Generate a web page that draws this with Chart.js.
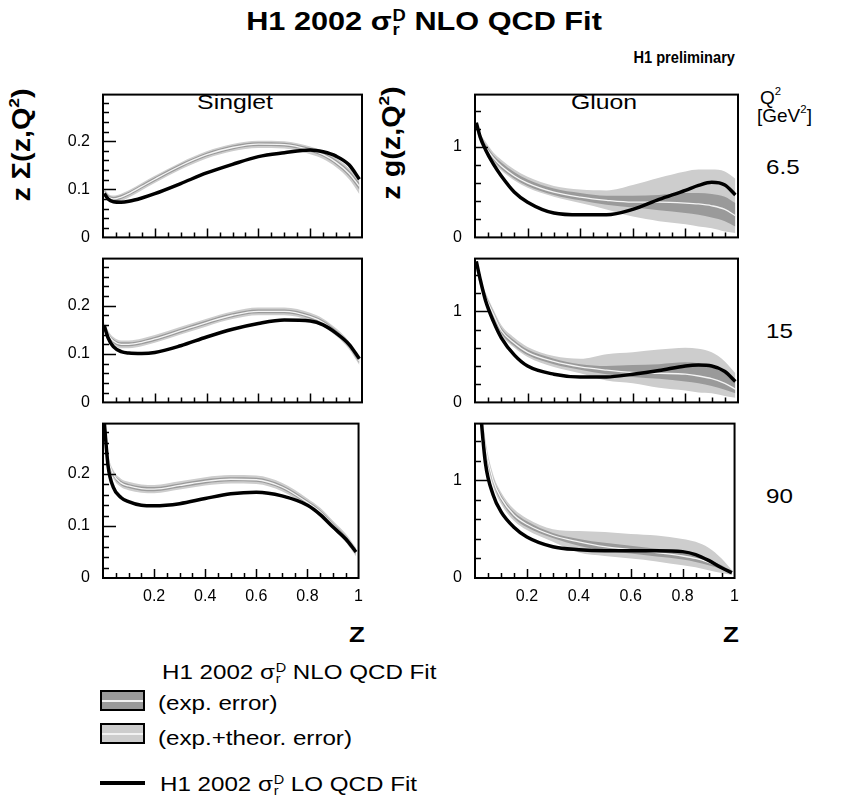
<!DOCTYPE html>
<html>
<head>
<meta charset="utf-8">
<script src="https://cdn.jsdelivr.net/npm/chart.js@4.4.1/dist/chart.umd.min.js"></script>
<style>
body { margin: 0; width: 845px; height: 804px; position: relative; overflow: hidden; background: #fff;
       font-family: "Liberation Sans", Arial, sans-serif; color: #000; }
.t { position: absolute; white-space: nowrap; line-height: 1; }
.c { transform: translate(-50%, -50%) scaleX(1.18); }
.l { transform: translateY(-50%) scaleX(1.15); transform-origin: left center; }
.r { transform: translate(-100%, -50%) scaleX(0.86); transform-origin: right center; }
.v { transform: translate(-50%, -50%) rotate(-90deg) scaleX(1.15); font-weight: bold; }
.sd { display: inline-block; font-size: .6em; line-height: .92; vertical-align: -.33em; margin-left: .05em; }
.sd span { display: block; }
.sp { font-size: .6em; position: relative; top: -.75em; }
.box { position: absolute; left: 100px; width: 41px; height: 17px; border: 2px solid #000; }
.box i { position: absolute; left: 0; right: 0; top: 8px; height: 2px; background: #f2f2f2; }
canvas { position: absolute; }
</style>
</head>
<body>

<div class="t c" style="left:424px;top:23px;font-size:26px;font-weight:bold">H1 2002 σ<span class="sd"><span>D</span><span>r</span></span> NLO QCD Fit</div>
<div class="t r" style="left:735px;top:57px;font-size:17px;font-weight:bold">H1 preliminary</div>

<div class="t c" style="left:235px;top:101px;font-size:21px">Singlet</div>
<div class="t c" style="left:604px;top:101px;font-size:21px">Gluon</div>

<div class="t v" style="left:21px;top:145px;font-size:25px">z Σ(z,Q<span class="sp">2</span>)</div>
<div class="t v" style="left:391px;top:143px;font-size:25px">z g(z,Q<span class="sp">2</span>)</div>

<div class="t" style="left:760px;top:88px;font-size:19px">Q<span class="sp">2</span></div>
<div class="t" style="left:757px;top:106px;font-size:19px">[GeV<span class="sp">2</span>]</div>

<div class="t c" style="left:357px;top:635px;font-size:22px;font-weight:bold">Z</div>
<div class="t c" style="left:731px;top:635px;font-size:22px;font-weight:bold">Z</div>

<div class="t l" style="left:162px;top:673px;font-size:21px">H1 2002 σ<span class="sd"><span>D</span><span>r</span></span> NLO QCD Fit</div>
<div class="box" style="top:690px;background:#9a9a9a"><i></i></div>
<div class="t l" style="left:158px;top:702px;font-size:21px">(exp. error)</div>
<div class="box" style="top:723px;background:#cdcdcd"><i></i></div>
<div class="t l" style="left:158px;top:737px;font-size:21px">(exp.+theor. error)</div>
<div style="position:absolute;left:100px;top:781px;width:45px;height:4px;background:#000"></div>
<div class="t l" style="left:160px;top:785px;font-size:21px">H1 2002 σ<span class="sd"><span>D</span><span>r</span></span> LO QCD Fit</div>

<script>
// z grid shared by all curves
const z = [0.005, 0.02, 0.04, 0.07, 0.1, 0.15, 0.2, 0.3, 0.4, 0.5, 0.6, 0.7, 0.8, 0.85, 0.9, 0.95, 0.99];
const q2Values = ['6.5', '15', '90'];

// singlet, Q2 = 6.5
const sing65_lo    = [0.091, 0.080, 0.074, 0.073, 0.075, 0.082, 0.091, 0.112, 0.134, 0.152, 0.168, 0.176, 0.182, 0.178, 0.169, 0.151, 0.121];
const sing65_nlo   = [0.094, 0.084, 0.080, 0.084, 0.091, 0.106, 0.121, 0.149, 0.172, 0.187, 0.194, 0.193, 0.182, 0.172, 0.156, 0.133, 0.106];
const sing65_expLo = [0.090, 0.080, 0.076, 0.080, 0.087, 0.102, 0.117, 0.145, 0.168, 0.183, 0.190, 0.189, 0.178, 0.168, 0.151, 0.127, 0.099];
const sing65_expHi = [0.098, 0.088, 0.084, 0.088, 0.095, 0.110, 0.125, 0.153, 0.176, 0.191, 0.198, 0.197, 0.186, 0.176, 0.161, 0.139, 0.113];
const sing65_totLo = [0.086, 0.075, 0.071, 0.075, 0.083, 0.098, 0.113, 0.141, 0.164, 0.179, 0.186, 0.185, 0.173, 0.163, 0.146, 0.121, 0.090];
const sing65_totHi = [0.101, 0.091, 0.087, 0.091, 0.098, 0.113, 0.128, 0.156, 0.179, 0.194, 0.201, 0.200, 0.189, 0.180, 0.165, 0.144, 0.120];

// singlet, Q2 = 15
const sing15_lo    = [0.158, 0.133, 0.115, 0.105, 0.102, 0.101, 0.103, 0.117, 0.135, 0.151, 0.163, 0.170, 0.168, 0.160, 0.143, 0.120, 0.090];
const sing15_nlo   = [0.158, 0.140, 0.127, 0.120, 0.120, 0.124, 0.131, 0.148, 0.165, 0.180, 0.188, 0.188, 0.177, 0.165, 0.145, 0.118, 0.085];
const sing15_expLo = [0.154, 0.136, 0.123, 0.116, 0.116, 0.120, 0.127, 0.144, 0.161, 0.176, 0.184, 0.184, 0.173, 0.161, 0.141, 0.114, 0.081];
const sing15_expHi = [0.162, 0.144, 0.131, 0.124, 0.124, 0.128, 0.135, 0.152, 0.169, 0.184, 0.192, 0.192, 0.181, 0.169, 0.149, 0.122, 0.089];
const sing15_totLo = [0.150, 0.132, 0.119, 0.112, 0.112, 0.116, 0.123, 0.140, 0.157, 0.172, 0.180, 0.180, 0.169, 0.157, 0.137, 0.110, 0.077];
const sing15_totHi = [0.166, 0.148, 0.135, 0.128, 0.128, 0.132, 0.139, 0.156, 0.173, 0.188, 0.196, 0.196, 0.185, 0.173, 0.153, 0.126, 0.093];

// singlet, Q2 = 90
const sing90_lo    = [0.300, 0.215, 0.175, 0.155, 0.147, 0.140, 0.139, 0.143, 0.153, 0.162, 0.165, 0.158, 0.140, 0.122, 0.098, 0.075, 0.050];
const sing90_nlo   = [0.290, 0.230, 0.200, 0.183, 0.177, 0.172, 0.171, 0.178, 0.186, 0.190, 0.189, 0.175, 0.145, 0.127, 0.102, 0.077, 0.050];
const sing90_expLo = [0.286, 0.226, 0.196, 0.179, 0.173, 0.168, 0.167, 0.174, 0.182, 0.186, 0.185, 0.171, 0.141, 0.123, 0.098, 0.073, 0.046];
const sing90_expHi = [0.294, 0.234, 0.204, 0.187, 0.181, 0.176, 0.175, 0.182, 0.190, 0.194, 0.193, 0.179, 0.149, 0.131, 0.106, 0.081, 0.054];
const sing90_totLo = [0.282, 0.222, 0.192, 0.175, 0.169, 0.164, 0.163, 0.170, 0.178, 0.182, 0.181, 0.167, 0.137, 0.119, 0.094, 0.069, 0.042];
const sing90_totHi = [0.298, 0.238, 0.208, 0.191, 0.185, 0.180, 0.179, 0.186, 0.194, 0.198, 0.197, 0.183, 0.153, 0.135, 0.110, 0.085, 0.058];

// gluon, Q2 = 6.5
const glu65_lo    = [1.27, 1.11, 0.97, 0.81, 0.68, 0.50, 0.39, 0.27, 0.25, 0.25, 0.31, 0.42, 0.52, 0.575, 0.61, 0.58, 0.47];
const glu65_nlo   = [1.23, 1.10, 1.00, 0.88, 0.79, 0.68, 0.60, 0.50, 0.445, 0.41, 0.39, 0.39, 0.38, 0.37, 0.35, 0.31, 0.24];
const glu65_expLo = [1.20, 1.07, 0.97, 0.85, 0.76, 0.65, 0.57, 0.47, 0.41, 0.36, 0.33, 0.30, 0.27, 0.25, 0.22, 0.18, 0.12];
const glu65_expHi = [1.26, 1.13, 1.03, 0.91, 0.83, 0.72, 0.64, 0.54, 0.49, 0.46, 0.46, 0.47, 0.49, 0.49, 0.48, 0.45, 0.38];
const glu65_totLo = [1.18, 1.05, 0.95, 0.83, 0.74, 0.63, 0.55, 0.45, 0.38, 0.31, 0.23, 0.18, 0.145, 0.12, 0.10, 0.065, 0.05];
const glu65_totHi = [1.28, 1.15, 1.06, 0.94, 0.86, 0.75, 0.67, 0.57, 0.53, 0.52, 0.58, 0.66, 0.73, 0.75, 0.75, 0.73, 0.65];

// gluon, Q2 = 15
const glu15_lo    = [1.55, 1.35, 1.12, 0.89, 0.71, 0.52, 0.40, 0.31, 0.28, 0.28, 0.31, 0.35, 0.40, 0.41, 0.40, 0.34, 0.23];
const glu15_nlo   = [1.50, 1.32, 1.16, 0.97, 0.79, 0.65, 0.55, 0.45, 0.39, 0.355, 0.33, 0.32, 0.31, 0.29, 0.26, 0.21, 0.145];
const glu15_expLo = [1.47, 1.29, 1.13, 0.94, 0.76, 0.62, 0.52, 0.42, 0.36, 0.31, 0.28, 0.26, 0.23, 0.21, 0.18, 0.14, 0.10];
const glu15_expHi = [1.53, 1.35, 1.19, 1.00, 0.82, 0.68, 0.58, 0.48, 0.42, 0.40, 0.41, 0.42, 0.44, 0.43, 0.39, 0.32, 0.23];
const glu15_totLo = [1.45, 1.27, 1.11, 0.92, 0.74, 0.60, 0.50, 0.39, 0.32, 0.24, 0.21, 0.16, 0.13, 0.11, 0.10, 0.07, 0.05];
const glu15_totHi = [1.55, 1.37, 1.21, 1.02, 0.85, 0.71, 0.61, 0.51, 0.48, 0.53, 0.55, 0.58, 0.60, 0.59, 0.55, 0.45, 0.32];

// gluon, Q2 = 90
const glu90_lo    = [2.30, 1.75, 1.18, 0.85, 0.68, 0.52, 0.42, 0.32, 0.29, 0.28, 0.28, 0.28, 0.27, 0.24, 0.18, 0.105, 0.055];
const glu90_nlo   = [2.10, 1.80, 1.35, 1.00, 0.82, 0.645, 0.55, 0.435, 0.37, 0.32, 0.29, 0.26, 0.225, 0.20, 0.16, 0.11, 0.055];
const glu90_expLo = [2.05, 1.76, 1.31, 0.97, 0.79, 0.615, 0.52, 0.41, 0.33, 0.28, 0.25, 0.22, 0.19, 0.165, 0.13, 0.09, 0.045];
const glu90_expHi = [2.15, 1.84, 1.39, 1.03, 0.85, 0.675, 0.58, 0.46, 0.40, 0.36, 0.33, 0.30, 0.27, 0.24, 0.19, 0.13, 0.065];
const glu90_totLo = [2.00, 1.72, 1.28, 0.94, 0.76, 0.585, 0.49, 0.37, 0.26, 0.225, 0.20, 0.17, 0.13, 0.11, 0.08, 0.05, 0.03];
const glu90_totHi = [2.20, 1.88, 1.42, 1.06, 0.88, 0.705, 0.61, 0.50, 0.48, 0.47, 0.45, 0.435, 0.40, 0.37, 0.31, 0.20, 0.08];

const panels = [
  {col: 0, row: 0, lo: sing65_lo, nlo: sing65_nlo, expLo: sing65_expLo, expHi: sing65_expHi, totLo: sing65_totLo, totHi: sing65_totHi},
  {col: 0, row: 1, lo: sing15_lo, nlo: sing15_nlo, expLo: sing15_expLo, expHi: sing15_expHi, totLo: sing15_totLo, totHi: sing15_totHi},
  {col: 0, row: 2, lo: sing90_lo, nlo: sing90_nlo, expLo: sing90_expLo, expHi: sing90_expHi, totLo: sing90_totLo, totHi: sing90_totHi},
  {col: 1, row: 0, lo: glu65_lo, nlo: glu65_nlo, expLo: glu65_expLo, expHi: glu65_expHi, totLo: glu65_totLo, totHi: glu65_totHi},
  {col: 1, row: 1, lo: glu15_lo, nlo: glu15_nlo, expLo: glu15_expLo, expHi: glu15_expHi, totLo: glu15_totLo, totHi: glu15_totHi},
  {col: 1, row: 2, lo: glu90_lo, nlo: glu90_nlo, expLo: glu90_expLo, expHi: glu90_expHi, totLo: glu90_totLo, totHi: glu90_totHi}
];

// panel frames on the page
const colX = [103, 475], colW = [259, 263];
const rowY = [84, 248, 413], rowH = [164, 165, 165];
const yAxes = [{max: 0.297, step: 0.1, minor: 0.02}, {max: 1.58, step: 1, minor: 0.2}];

q2Values.forEach((q, i) => {
  const d = document.createElement('div');
  d.className = 't l';
  d.style.cssText = 'left:766px;font-size:21px;top:' + [166, 330, 495][i] + 'px';
  d.textContent = q;
  document.body.appendChild(d);
});

// ROOT-like frame with inward ticks on left and bottom
const rootFrame = {
  id: 'rootFrame',
  afterDatasetsDraw(chart, args, ax) {
    const {ctx, chartArea: a, scales: {x, y}} = chart;
    ctx.save();
    ctx.strokeStyle = '#000';
    ctx.lineWidth = 1.5;
    ctx.beginPath();
    for (let i = 1; i * ax.minor < ax.max; i++) {
      const v = i * ax.minor;
      const major = Math.abs(v / ax.step - Math.round(v / ax.step)) < 1e-6;
      const py = Math.round(y.getPixelForValue(v)) + 0.5;
      ctx.moveTo(a.left, py);
      ctx.lineTo(a.left + (major ? 13 : 6), py);
    }
    for (let i = 1; i < 20; i++) {
      const px = Math.round(x.getPixelForValue(i * 0.05)) + 0.5;
      ctx.moveTo(px, a.bottom);
      ctx.lineTo(px, a.bottom - (i % 4 === 0 ? 9 : 5));
    }
    ctx.stroke();
    ctx.lineWidth = 2;
    ctx.strokeRect(a.left, a.top, a.right - a.left, a.bottom - a.top);
    ctx.restore();
  }
};

const pts = arr => z.map((v, i) => ({x: v, y: arr[i]}));
const none = 'rgba(0,0,0,0)';
const tickFont = {family: 'Liberation Sans', size: 16};

panels.forEach(p => {
  const bottom = p.row === 2;
  const ax = yAxes[p.col];
  const padL = 60, padT = 12, padR = 10, padB = bottom ? 40 : 12;
  const w = colW[p.col] + padL + padR, h = rowH[p.row] + padT + padB;
  const cv = document.createElement('canvas');
  cv.width = w; cv.height = h;
  cv.style.left = (colX[p.col] - padL) + 'px';
  cv.style.top = (rowY[p.row] - padT) + 'px';
  cv.style.width = w + 'px'; cv.style.height = h + 'px';
  document.body.appendChild(cv);

  new Chart(cv, {
    type: 'line',
    data: {
      datasets: [
        {data: pts(p.lo), borderColor: '#000', borderWidth: 3.5},
        {data: pts(p.nlo), borderColor: '#f4f4f4', borderWidth: 1.3},
        {data: pts(p.expHi), borderColor: none, borderWidth: 0, backgroundColor: '#9a9a9a', fill: '+1'},
        {data: pts(p.expLo), borderColor: none, borderWidth: 0},
        {data: pts(p.totHi), borderColor: none, borderWidth: 0, backgroundColor: '#cdcdcd', fill: '+1'},
        {data: pts(p.totLo), borderColor: none, borderWidth: 0}
      ]
    },
    options: {
      responsive: false,
      animation: false,
      layout: {padding: {top: padT, right: padR, bottom: bottom ? 4 : padB, left: 0}},
      elements: {point: {radius: 0}, line: {cubicInterpolationMode: 'monotone'}},
      plugins: {legend: {display: false}, tooltip: {enabled: false}, rootFrame: ax},
      scales: {
        x: {
          type: 'linear', min: 0, max: 1, display: bottom,
          afterFit: s => { s.height = padB - 4; },
          grid: {display: false, drawTicks: false}, border: {display: false},
          ticks: {stepSize: 0.2, padding: 9, color: '#000', font: tickFont, maxRotation: 0,
                  callback: v => v < 0.01 ? '' : String(+v.toFixed(1))}
        },
        y: {
          min: 0, max: ax.max,
          afterFit: s => { s.width = padL; },
          grid: {display: false, drawTicks: false}, border: {display: false},
          ticks: {stepSize: ax.step, includeBounds: false, padding: 13, color: '#000', font: tickFont,
                  callback: v => String(+v.toFixed(1))}
        }
      }
    },
    plugins: [rootFrame]
  });
});
</script>
</body>
</html>
